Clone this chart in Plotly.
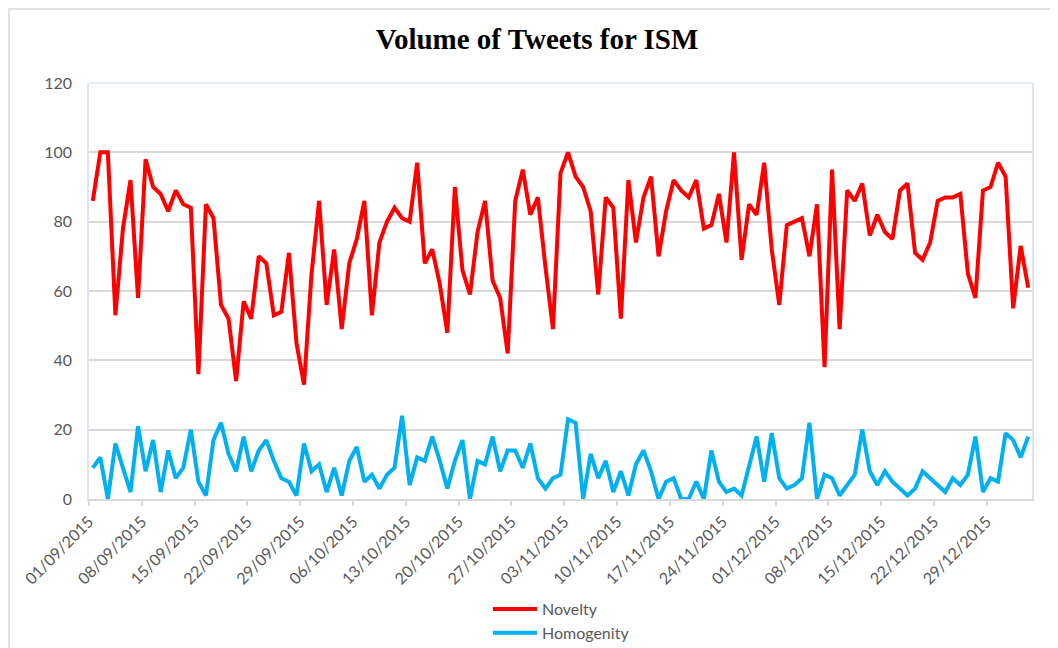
import pandas as pd
import plotly.graph_objects as go

# daily values, 01/09/2015 .. 03/01/2016
start_date = "2015-09-01"
n_days = 125

novelty = [
    86, 100, 100, 53, 78, 92, 58, 98, 90, 88, 83, 89, 85, 84, 36, 85, 81, 56, 52, 34,
    57, 52, 70, 68, 53, 54, 71, 45, 33, 65, 86, 56, 72, 49, 68, 75, 86, 53, 74, 80,
    84, 81, 80, 97, 68, 72, 62, 48, 90, 66, 59, 77, 86, 63, 58, 42, 86, 95, 82, 87,
    67, 49, 94, 100, 93, 90, 83, 59, 87, 84, 52, 92, 74, 87, 93, 70, 83, 92, 89, 87,
    92, 78, 79, 88, 74, 100, 69, 85, 82, 97, 72, 56, 79, 80, 81, 70, 85, 38, 95, 49,
    89, 86, 91, 76, 82, 77, 75, 89, 91, 71, 69, 74, 86, 87, 87, 88, 65, 58, 89, 90,
    97, 93, 55, 73, 61,
]
homogenity = [
    9, 12, 0, 16, 9, 2, 21, 8, 17, 2, 14, 6, 9, 20, 5, 1, 17, 22, 13, 8,
    18, 8, 14, 17, 11, 6, 5, 1, 16, 8, 10, 2, 9, 1, 11, 15, 5, 7, 3, 7,
    9, 24, 4, 12, 11, 18, 11, 3, 11, 17, 0, 11, 10, 18, 8, 14, 14, 9, 16, 6,
    3, 6, 7, 23, 22, 0, 13, 6, 11, 2, 8, 1, 10, 14, 8, 0, 5, 6, 0, 0,
    5, 0, 14, 5, 2, 3, 1, 9, 18, 5, 19, 6, 3, 4, 6, 22, 0, 7, 6, 1,
    4, 7, 20, 8, 4, 8, 5, 3, 1, 3, 8, 6, 4, 2, 6, 4, 7, 18, 2, 6,
    5, 19, 17, 12, 18,
]

dates = pd.date_range(start_date, periods=n_days, freq="D")
x_end = dates[-1] + pd.Timedelta(days=1)

DAY_MS = 86400000
# the page body adds an 8px margin, so the figure is drawn 8px smaller
W, H = 1050, 640
L, R, T = 81, 26, 75
B = H - 491
plot_w, plot_h = W - L - R, H - T - B

fig = go.Figure()
fig.add_trace(go.Scatter(
    x=dates, y=novelty, name="Novelty", mode="lines",
    line=dict(color="#FF0000", width=4),
    xperiod=DAY_MS, xperiodalignment="middle",
))
fig.add_trace(go.Scatter(
    x=dates, y=homogenity, name="Homogenity", mode="lines",
    line=dict(color="#00B0F0", width=4),
    xperiod=DAY_MS, xperiodalignment="middle",
))

label_font = dict(family="Lato, Open Sans, sans-serif", size=16, color="#595959")

fig.update_layout(
    width=W, height=H,
    margin=dict(l=L, r=R, t=T, b=B, autoexpand=False),
    paper_bgcolor="white", plot_bgcolor="white",
    title=dict(
        text="<b>Volume of Tweets for ISM</b>",
        font=dict(family="Liberation Serif, Times New Roman, serif", size=29, color="black"),
        x=529 / W, xanchor="center", y=1 - 31 / H, yref="container", yanchor="middle",
    ),
    showlegend=True,
    legend=dict(
        orientation="v", x=(480 - L) / plot_w, xanchor="left",
        yref="container", y=1 - 584 / H, yanchor="top",
        font=label_font, bgcolor="rgba(0,0,0,0)", tracegroupgap=0, itemwidth=44,
    ),
)

fig.update_xaxes(
    type="date", range=[dates[0], x_end], automargin=False,
    tick0=dates[0], dtick=7 * DAY_MS, tickformat="%d/%m/%Y", tickangle=-45,
    ticks="outside", ticklen=5, tickcolor="#D9D9D9", tickwidth=1.5,
    showgrid=False, zeroline=False,
    showline=True, linecolor="#D9D9D9", linewidth=2,
    tickfont=label_font,
)
fig.update_yaxes(
    range=[0, 120], dtick=20, tick0=0, automargin=False,
    showgrid=True, gridcolor="#D9D9D9", gridwidth=1.5,
    zeroline=False, showline=True, linecolor="#DCE6F2", linewidth=1.5, mirror=True,
    ticks="", ticklabelstandoff=12, tickfont=label_font,
)

# plot area top border and outer chart frame
fig.add_shape(type="line", xref="paper", yref="paper", x0=0, x1=1, y0=1, y1=1,
              line=dict(color="#DCE6F2", width=1.5))
fig.add_shape(type="rect", xref="paper", yref="paper",
              x0=(1 - L) / plot_w, x1=1.2, y0=-0.6, y1=(H - B - 1) / plot_h,
              line=dict(color="#D9D9D9", width=1.5), layer="below")

fig.write_html("out.html")
